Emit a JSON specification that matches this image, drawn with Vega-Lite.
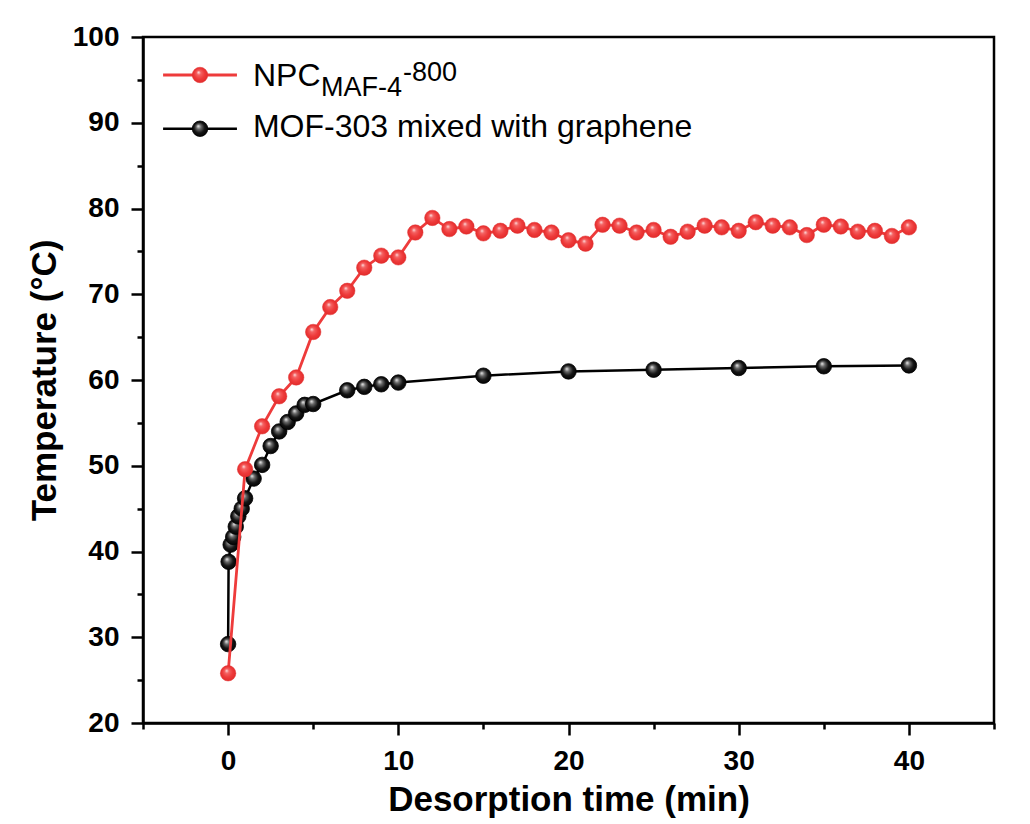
{
  "$schema": "https://vega.github.io/schema/vega-lite/v6.json",
  "width": 851,
  "height": 686,
  "autosize": {"type": "none"},
  "padding": {"left": 143, "top": 37, "right": 36, "bottom": 101},
  "background": "white",
  "config": {
    "view": {"stroke": "black", "strokeWidth": 2.5},
    "font": "Liberation Sans",
    "axis": {
      "domainColor": "black", "domainWidth": 2.5, "tickColor": "black", "tickWidth": 2.5,
      "labelFont": "Liberation Sans", "labelFontWeight": "bold", "labelFontSize": 28, "labelColor": "black",
      "titleFont": "Liberation Sans", "titleFontWeight": "bold", "titleFontSize": 35, "titleColor": "black",
      "grid": false, "labelPadding": 12
    }
  },
  "datasets": {
    "d": [
      {"series": "NPC", "time": 0, "temp": 25.8}, {"series": "NPC", "time": 1, "temp": 49.6},
      {"series": "NPC", "time": 2, "temp": 54.6}, {"series": "NPC", "time": 3, "temp": 58.1},
      {"series": "NPC", "time": 4, "temp": 60.3}, {"series": "NPC", "time": 5, "temp": 65.6},
      {"series": "NPC", "time": 6, "temp": 68.5}, {"series": "NPC", "time": 7, "temp": 70.4},
      {"series": "NPC", "time": 8, "temp": 73.1}, {"series": "NPC", "time": 9, "temp": 74.5},
      {"series": "NPC", "time": 10, "temp": 74.3}, {"series": "NPC", "time": 11, "temp": 77.2},
      {"series": "NPC", "time": 12, "temp": 78.9}, {"series": "NPC", "time": 13, "temp": 77.6},
      {"series": "NPC", "time": 14, "temp": 77.9}, {"series": "NPC", "time": 15, "temp": 77.1},
      {"series": "NPC", "time": 16, "temp": 77.4}, {"series": "NPC", "time": 17, "temp": 78.0},
      {"series": "NPC", "time": 18, "temp": 77.5}, {"series": "NPC", "time": 19, "temp": 77.2},
      {"series": "NPC", "time": 20, "temp": 76.3}, {"series": "NPC", "time": 21, "temp": 75.9},
      {"series": "NPC", "time": 22, "temp": 78.1}, {"series": "NPC", "time": 23, "temp": 78.0},
      {"series": "NPC", "time": 24, "temp": 77.2}, {"series": "NPC", "time": 25, "temp": 77.5},
      {"series": "NPC", "time": 26, "temp": 76.7}, {"series": "NPC", "time": 27, "temp": 77.3},
      {"series": "NPC", "time": 28, "temp": 78.0}, {"series": "NPC", "time": 29, "temp": 77.8},
      {"series": "NPC", "time": 30, "temp": 77.4}, {"series": "NPC", "time": 31, "temp": 78.4},
      {"series": "NPC", "time": 32, "temp": 78.0}, {"series": "NPC", "time": 33, "temp": 77.8},
      {"series": "NPC", "time": 34, "temp": 76.9}, {"series": "NPC", "time": 35, "temp": 78.1},
      {"series": "NPC", "time": 36, "temp": 77.9}, {"series": "NPC", "time": 37, "temp": 77.3},
      {"series": "NPC", "time": 38, "temp": 77.4}, {"series": "NPC", "time": 39, "temp": 76.8},
      {"series": "NPC", "time": 40, "temp": 77.8},
      {"series": "MOF", "time": 0, "temp": 29.2}, {"series": "MOF", "time": 0.03, "temp": 38.8},
      {"series": "MOF", "time": 0.15, "temp": 40.8}, {"series": "MOF", "time": 0.3, "temp": 41.7},
      {"series": "MOF", "time": 0.45, "temp": 42.9}, {"series": "MOF", "time": 0.6, "temp": 44.1},
      {"series": "MOF", "time": 0.8, "temp": 45.0}, {"series": "MOF", "time": 1.0, "temp": 46.2},
      {"series": "MOF", "time": 1.5, "temp": 48.5}, {"series": "MOF", "time": 2, "temp": 50.1},
      {"series": "MOF", "time": 2.5, "temp": 52.3}, {"series": "MOF", "time": 3, "temp": 54.0},
      {"series": "MOF", "time": 3.5, "temp": 55.1}, {"series": "MOF", "time": 4, "temp": 56.1},
      {"series": "MOF", "time": 4.5, "temp": 57.1}, {"series": "MOF", "time": 5, "temp": 57.2},
      {"series": "MOF", "time": 7, "temp": 58.8}, {"series": "MOF", "time": 8, "temp": 59.2},
      {"series": "MOF", "time": 9, "temp": 59.5}, {"series": "MOF", "time": 10, "temp": 59.7},
      {"series": "MOF", "time": 15, "temp": 60.5}, {"series": "MOF", "time": 20, "temp": 61.0},
      {"series": "MOF", "time": 25, "temp": 61.2}, {"series": "MOF", "time": 30, "temp": 61.4},
      {"series": "MOF", "time": 35, "temp": 61.6}, {"series": "MOF", "time": 40, "temp": 61.7}
    ],
    "leg": [{"k": 1}]
  },
  "layer": [
    {
      "data": {"name": "d"},
      "transform": [{"filter": "datum.series == 'MOF'"}],
      "mark": {"type": "line", "color": "black", "strokeWidth": 2.5},
      "encoding": {
        "x": {
          "field": "time", "type": "quantitative",
          "scale": {"domain": [-5, 45], "nice": false, "zero": false},
          "axis": {
            "title": "Desorption time (min)",
            "values": [-5, 0, 5, 10, 15, 20, 25, 30, 35, 40, 45],
            "labelExpr": "datum.value % 10 == 0 ? datum.label : ''",
            "tickSize": {"condition": {"test": "datum.value % 10 != 0", "value": 6}, "value": 12},
            "titleBaseline": "alphabetic", "titleY": 87
          }
        },
        "y": {
          "field": "temp", "type": "quantitative",
          "scale": {"domain": [20, 100], "nice": false, "zero": false},
          "axis": {
            "title": "Temperature (°C)",
            "values": [20, 25, 30, 35, 40, 45, 50, 55, 60, 65, 70, 75, 80, 85, 90, 95, 100],
            "labelExpr": "datum.value % 10 == 0 ? datum.label : ''",
            "tickSize": {"condition": {"test": "datum.value % 10 != 0", "value": 6}, "value": 12},
            "titleBaseline": "alphabetic", "titleX": -88
          }
        }
      }
    },
    {
      "data": {"name": "d"},
      "transform": [{"filter": "datum.series == 'MOF'"}],
      "mark": {
        "type": "point", "filled": true, "size": 240, "opacity": 1,
        "fill": {"gradient": "radial", "x1": 0.38, "y1": 0.32, "r1": 0, "x2": 0.5, "y2": 0.5, "r2": 0.55,
          "stops": [{"offset": 0, "color": "#f2f2f2"}, {"offset": 0.28, "color": "#6a6a6a"}, {"offset": 0.62, "color": "#151515"}, {"offset": 1, "color": "#000000"}]},
        "stroke": "black", "strokeWidth": 0.8
      },
      "encoding": {"x": {"field": "time", "type": "quantitative"}, "y": {"field": "temp", "type": "quantitative"}}
    },
    {
      "data": {"name": "d"},
      "transform": [{"filter": "datum.series == 'NPC'"}],
      "mark": {"type": "line", "color": "#EE3B3B", "strokeWidth": 2.8},
      "encoding": {"x": {"field": "time", "type": "quantitative"}, "y": {"field": "temp", "type": "quantitative"}}
    },
    {
      "data": {"name": "d"},
      "transform": [{"filter": "datum.series == 'NPC'"}],
      "mark": {
        "type": "point", "filled": true, "size": 240, "opacity": 1,
        "fill": {"gradient": "radial", "x1": 0.4, "y1": 0.32, "r1": 0, "x2": 0.5, "y2": 0.5, "r2": 0.55,
          "stops": [{"offset": 0, "color": "#ffe8e8"}, {"offset": 0.25, "color": "#f46262"}, {"offset": 0.6, "color": "#ee3b3b"}, {"offset": 1, "color": "#e02828"}]},
        "stroke": "#e03030", "strokeWidth": 0.5
      },
      "encoding": {"x": {"field": "time", "type": "quantitative"}, "y": {"field": "temp", "type": "quantitative"}}
    },
    {
      "data": {"name": "leg"},
      "mark": {"type": "rule", "color": "#EE3B3B", "strokeWidth": 2.8},
      "encoding": {"x": {"datum": -3.82, "type": "quantitative"}, "x2": {"datum": 0.52}, "y": {"datum": 95.57, "type": "quantitative"}}
    },
    {
      "data": {"name": "leg"},
      "mark": {
        "type": "point", "filled": true, "size": 240, "opacity": 1,
        "fill": {"gradient": "radial", "x1": 0.4, "y1": 0.32, "r1": 0, "x2": 0.5, "y2": 0.5, "r2": 0.55,
          "stops": [{"offset": 0, "color": "#ffe8e8"}, {"offset": 0.25, "color": "#f46262"}, {"offset": 0.6, "color": "#ee3b3b"}, {"offset": 1, "color": "#e02828"}]},
        "stroke": "#e03030", "strokeWidth": 0.5
      },
      "encoding": {"x": {"datum": -1.65, "type": "quantitative"}, "y": {"datum": 95.57, "type": "quantitative"}}
    },
    {
      "data": {"name": "leg"},
      "mark": {"type": "rule", "color": "black", "strokeWidth": 2.5},
      "encoding": {"x": {"datum": -3.82, "type": "quantitative"}, "x2": {"datum": 0.52}, "y": {"datum": 89.3, "type": "quantitative"}}
    },
    {
      "data": {"name": "leg"},
      "mark": {
        "type": "point", "filled": true, "size": 240, "opacity": 1,
        "fill": {"gradient": "radial", "x1": 0.38, "y1": 0.32, "r1": 0, "x2": 0.5, "y2": 0.5, "r2": 0.55,
          "stops": [{"offset": 0, "color": "#f2f2f2"}, {"offset": 0.28, "color": "#6a6a6a"}, {"offset": 0.62, "color": "#151515"}, {"offset": 1, "color": "#000000"}]},
        "stroke": "black", "strokeWidth": 0.8
      },
      "encoding": {"x": {"datum": -1.65, "type": "quantitative"}, "y": {"datum": 89.3, "type": "quantitative"}}
    },
    {
      "data": {"name": "leg"},
      "mark": {"type": "text", "text": "NPC", "align": "left", "baseline": "alphabetic", "fontSize": 32, "font": "Liberation Sans", "color": "black"},
      "encoding": {"x": {"datum": 1.46, "type": "quantitative"}, "y": {"datum": 94.29, "type": "quantitative"}}
    },
    {
      "data": {"name": "leg"},
      "mark": {"type": "text", "text": "MAF-4", "align": "left", "baseline": "alphabetic", "fontSize": 27, "font": "Liberation Sans", "color": "black"},
      "encoding": {"x": {"datum": 5.46, "type": "quantitative"}, "y": {"datum": 93.12, "type": "quantitative"}}
    },
    {
      "data": {"name": "leg"},
      "mark": {"type": "text", "text": "-800", "align": "left", "baseline": "alphabetic", "fontSize": 27, "font": "Liberation Sans", "color": "black"},
      "encoding": {"x": {"datum": 10.27, "type": "quantitative"}, "y": {"datum": 94.87, "type": "quantitative"}}
    },
    {
      "data": {"name": "leg"},
      "mark": {"type": "text", "text": "MOF-303 mixed with graphene", "align": "left", "baseline": "alphabetic", "fontSize": 32, "font": "Liberation Sans", "color": "black"},
      "encoding": {"x": {"datum": 1.46, "type": "quantitative"}, "y": {"datum": 88.34, "type": "quantitative"}}
    }
  ]
}
